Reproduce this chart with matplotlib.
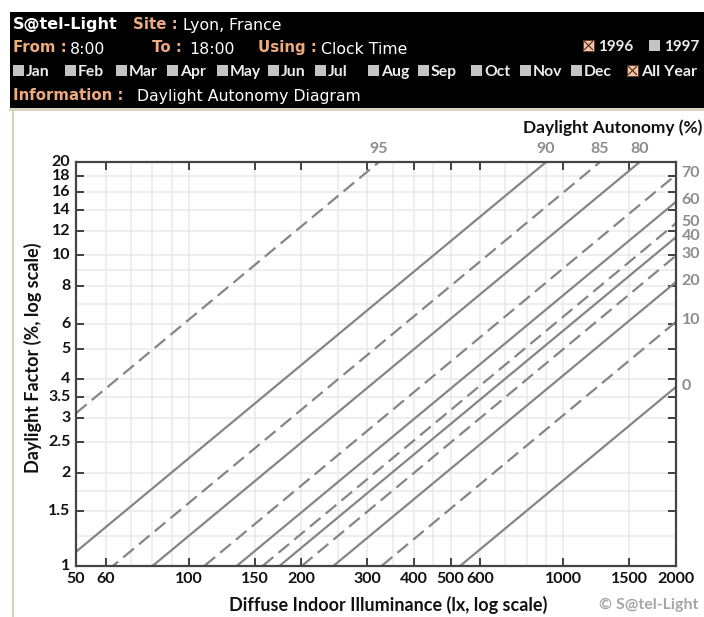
import numpy as np
import matplotlib
matplotlib.use("Agg")
import matplotlib.pyplot as plt
from matplotlib.patches import Rectangle
from matplotlib.lines import Line2D
from matplotlib.ticker import FixedLocator, NullFormatter, NullLocator

# ---------------- data ----------------
autonomy_pct = [95, 90, 85, 80, 70, 60, 50, 40, 30, 20, 10, 0]
outdoor_threshold_lx = [1610, 4500, 6270, 8000, 11000, 13430, 15740, 17460, 20030, 24330, 32700, 53000]
x_tick_values = [50, 60, 100, 150, 200, 300, 400, 500, 600, 1000, 1500, 2000]
x_tick_marks = [60, 100, 150, 200, 300, 400, 500, 600, 1000, 1500]
x_grid_values = [60, 70, 80, 90, 100, 150, 200, 250, 300, 350, 400, 450, 500, 600, 700, 800, 900, 1000, 1500]
y_tick_values = [1, 1.5, 2, 2.5, 3, 3.5, 4, 5, 6, 8, 10, 12, 14, 16, 18, 20]
y_tick_labels = ["1", "1.5", "2", "2.5", "3", "3.5", "4", "5", "6", "8", "10", "12", "14", "16", "18", "20"]
y_grid_values = [1.25, 1.5, 1.75, 2, 2.5, 3, 3.5, 4, 5, 6, 7, 8, 9, 10, 12, 14, 16, 18]
months = ["Jan", "Feb", "Mar", "Apr", "May", "Jun", "Jul", "Aug", "Sep", "Oct", "Nov", "Dec"]
x_range = (50, 2000)
y_range = (1, 20)

W, H = 704, 617
fig = plt.figure(figsize=(W / 100, H / 100), dpi=100)
fig.patch.set_facecolor("white")

def fx(x):
    return x / W

def fy(y):
    return 1 - y / H

def ftext(x, y, s, **kw):
    kw.setdefault("va", "baseline")
    return fig.text(fx(x), fy(y), s, **kw)

# ---------------- header ----------------
fig.patches.append(Rectangle((fx(10), fy(108)), fx(704) - fx(10), fy(12) - fy(108),
                             transform=fig.transFigure, facecolor="black", edgecolor="none", zorder=0))
fig.lines.append(Line2D([fx(10), fx(704)], [fy(109), fy(109)], transform=fig.transFigure,
                        color="#d6d0bc", lw=2))
fig.lines.append(Line2D([fx(12.5), fx(12.5)], [fy(109), fy(617)], transform=fig.transFigure,
                        color="#d6d0bc", lw=1.5))

peach = "#eea97c"
hfont = "DejaVu Sans"
LB = 10.8    # bold label size
LV = 11.3    # value size
ftext(13, 29, "S@tel-Light", color="white", fontweight="bold", fontsize=11.5, family=hfont)
ftext(133, 29, "Site :", color=peach, fontweight="bold", fontsize=LB, family=hfont)
ftext(183, 30, "Lyon, France", color="white", fontsize=LV, family=hfont)

ftext(13, 52, "From :", color=peach, fontweight="bold", fontsize=LB, family=hfont)
ftext(70, 54, "8:00", color="white", fontsize=LV, family=hfont)
ftext(152, 52, "To :", color=peach, fontweight="bold", fontsize=LB, family=hfont)
ftext(189, 54, "18:00", color="white", fontsize=LV, family=hfont)
ftext(258, 52, "Using :", color=peach, fontweight="bold", fontsize=LB, family=hfont)
ftext(321, 54, "Clock Time", color="white", fontsize=LV, family=hfont)

ftext(13, 100, "Information :", color=peach, fontweight="bold", fontsize=LB, family=hfont)
ftext(137, 101, "Daylight Autonomy Diagram", color="white", fontsize=LV, family=hfont)

def box(x, y, checked):
    s = 11
    fig.patches.append(Rectangle((fx(x), fy(y + s)), fx(s), fy(0) - fy(s), transform=fig.transFigure,
                                 facecolor="#f6c3a5" if checked else "#c4c4c4",
                                 edgecolor="#5a3a2a" if checked else "none", lw=0.6, zorder=2))
    if checked:
        for (a, b) in [((x + 1.5, y + 1.5), (x + s - 1.5, y + s - 1.5)), ((x + 1.5, y + s - 1.5), (x + s - 1.5, y + 1.5))]:
            fig.lines.append(Line2D([fx(a[0]), fx(b[0])], [fy(a[1]), fy(b[1])],
                                    transform=fig.transFigure, color="#4a2a1a", lw=0.8, zorder=3))

gfont = "Lato"
box(583, 40, True)
ftext(598, 51, "1996", color="#ececec", fontweight="bold", fontsize=11, family=gfont)
box(649, 40, False)
ftext(664, 51, "1997", color="#ececec", fontweight="bold", fontsize=11, family=gfont)

month_x = [13, 65, 116, 167, 217, 268, 315, 368, 418, 471, 520, 571]
for mx, m in zip(month_x, months):
    box(mx, 65, False)
    ftext(mx + 13, 76, m, color="#ececec", fontweight="bold", fontsize=11.3, family=gfont)
box(627, 65, True)
ftext(641, 76, "All Year", color="#ececec", fontweight="bold", fontsize=11.5, family=gfont)

# ---------------- chart ----------------
L, R, T, B = 76, 676, 162, 566
ax = fig.add_axes([fx(L), fy(B), fx(R) - fx(L), fy(T) - fy(B)])
ax.set_xscale("log")
ax.set_yscale("log")
ax.set_xlim(*x_range)
ax.set_ylim(*y_range)

for gx in x_grid_values:
    ax.axvline(gx, color="#e9e9e9", lw=1.1, zorder=0)
for gy in y_grid_values:
    ax.axhline(gy, color="#e9e9e9", lw=1.1, zorder=0)

line_col = "#858585"
cfont = "Lato"
xs = np.array(x_range, dtype=float)
for i, (pct, thr) in enumerate(zip(autonomy_pct, outdoor_threshold_lx)):
    df = 100.0 * xs / thr
    ln, = ax.plot(xs, df, color=line_col, lw=1.6, zorder=2, solid_capstyle="butt")
    if i % 2 == 0:
        ln.set_linestyle((0, (6.2, 3.0)))
        ln.set_dash_capstyle("butt")
    e_top = y_range[1] * thr / 100.0
    if e_top <= x_range[1]:
        ax.annotate(str(pct), xy=(e_top, y_range[1]), xytext=(0, 4), textcoords="offset points",
                    ha="center", va="bottom", color="#8d8d8d", fontweight="bold",
                    fontsize=11.5, family=cfont, annotation_clip=False)
    else:
        df_r = 100.0 * x_range[1] / thr
        ax.annotate(str(pct), xy=(x_range[1], df_r), xytext=(4, 1), textcoords="offset points",
                    ha="left", va="center", color="#8d8d8d", fontweight="bold",
                    fontsize=11.5, family=cfont, annotation_clip=False)

ax.xaxis.set_major_locator(FixedLocator(x_tick_marks))
ax.xaxis.set_minor_locator(NullLocator())
ax.xaxis.set_major_formatter(NullFormatter())
ax.yaxis.set_major_locator(FixedLocator(y_tick_values[1:-1]))
ax.yaxis.set_minor_locator(NullLocator())
ax.yaxis.set_major_formatter(NullFormatter())
ax.tick_params(axis="both", which="major", direction="in", length=5.5, width=1.3,
               color="#333333", top=True, right=True)
for sp in ax.spines.values():
    sp.set_color("#444444")
    sp.set_linewidth(1.6)

for v in x_tick_values:
    ax.annotate(str(v), xy=(v, y_range[0]), xytext=(0, -4), textcoords="offset points",
                ha="center", va="top", fontweight="bold", fontsize=11.5, family=cfont,
                color="#111111", annotation_clip=False)
for v, lab in zip(y_tick_values, y_tick_labels):
    ax.annotate(lab, xy=(x_range[0], v), xytext=(-4, 0), textcoords="offset points",
                ha="right", va="center", fontweight="bold", fontsize=11.5, family=cfont,
                color="#111111", annotation_clip=False)

ftext(388, 605, "Diffuse Indoor Illuminance (lx, log scale)", ha="center", va="center",
      fontweight="bold", fontsize=13, family=cfont, color="#111111")
ftext(33, 358, "Daylight Factor (%, log scale)", ha="center", va="center", rotation=90,
      fontweight="bold", fontsize=13, family=cfont, color="#111111")
ftext(702, 128, "Daylight Autonomy (%)", ha="right", va="center",
      fontweight="bold", fontsize=12.5, family=cfont, color="#111111")
ftext(698, 605, "\u00a9 S@tel-Light", ha="right", va="center",
      fontweight="bold", fontsize=11.5, family=cfont, color="#a6a6a6")

fig.savefig("out.png", dpi=100, facecolor="white")
